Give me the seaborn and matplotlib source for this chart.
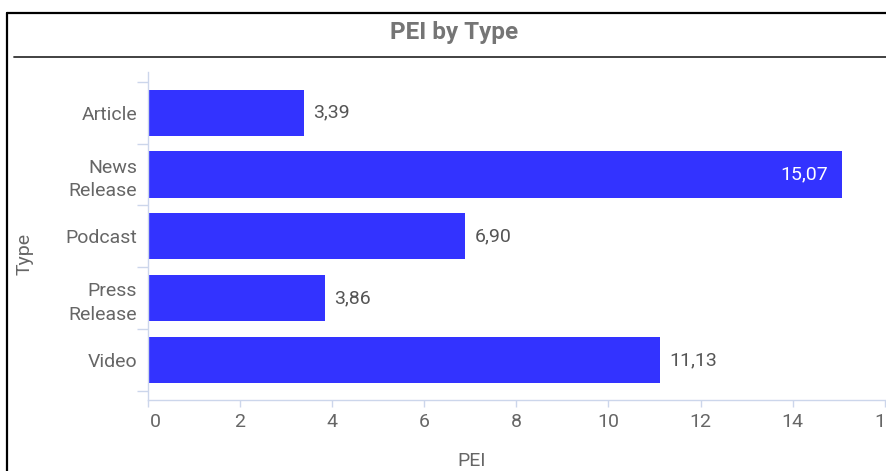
import matplotlib
matplotlib.use("Agg")
import matplotlib.pyplot as plt
import matplotlib.transforms as mtrans
import seaborn as sns
import pandas as pd
from matplotlib.lines import Line2D

# Data
types = ["Article", "News\nRelease", "Podcast", "Press\nRelease", "Video"]
pei = [3.39, 15.07, 6.90, 3.86, 11.13]
x_ticks = [0, 2, 4, 6, 8, 10, 12, 14, 16]

df = pd.DataFrame({"Type": types, "PEI": pei})

sns.set_theme(style="white")
plt.rcParams["font.family"] = ["Roboto", "DejaVu Sans"]

BAR = "#3333ff"
TEXT = "#666666"
GRID = "#ccd6eb"
FS = 14

fig = plt.figure(figsize=(8.86, 4.71), dpi=100)
ax = fig.add_axes([0.1665, 0.1507, 0.8322, 0.6965])

sns.barplot(data=df, x="PEI", y="Type", orient="h", color=BAR,
            saturation=1, width=0.75, ax=ax, edgecolor="none")

ax.set_xlim(0, 16)
ax.set_ylim(4.65, -0.66)
ax.set_xticks(x_ticks)
ax.set_xticklabels([str(t) for t in x_ticks], color=TEXT, fontsize=FS)
ax.tick_params(axis="x", length=5, width=1, color=GRID, pad=4, direction="out", bottom=True)
# keep the first x label inside the plot edge
first = ax.get_xticklabels()[0]
first.set_horizontalalignment("left")
first.set_transform(first.get_transform() + mtrans.ScaledTranslation(2 / 72, 0, fig.dpi_scale_trans))

ax.tick_params(axis="y", length=0, pad=7.5, labelsize=FS, labelcolor=TEXT)
for lbl in ax.get_yticklabels():
    lbl.set_horizontalalignment("right")
    lbl.set_multialignment("right")
    lbl.set_linespacing(1.4)

# category boundary ticks on the left axis
ax.set_yticks([i - 0.5 for i in range(len(types) + 1)], minor=True)
ax.tick_params(axis="y", which="minor", length=8, width=1, color=GRID, left=True)

for side in ["top", "right"]:
    ax.spines[side].set_visible(False)
for side in ["left", "bottom"]:
    ax.spines[side].set_color(GRID)
    ax.spines[side].set_linewidth(1)

ax.set_xlabel("")
ax.set_ylabel("")
fig.text(472 / 886, 1 - 461 / 471, "PEI", ha="center", va="center",
         color=TEXT, fontsize=FS)
fig.text(25 / 886, 1 - 254 / 471, "Type", ha="center", va="center",
         rotation=90, color=TEXT, fontsize=FS)

# value labels: inside the longest bar, outside the others
vmax = max(pei)
for i, v in enumerate(pei):
    txt = f"{v:.2f}".replace(".", ",")
    if v == vmax:
        ax.annotate(txt, (v, i), xytext=(-10, 0), textcoords="offset points",
                    ha="right", va="center", color="white", fontsize=FS)
    else:
        ax.annotate(txt, (v, i), xytext=(6.5, 0), textcoords="offset points",
                    ha="left", va="center", color="#555555", fontsize=FS)

# panel frame, title and rule under it
fig.add_artist(Line2D([6.5 / 886, 6.5 / 886], [0, 1 - 12.5 / 471],
                      transform=fig.transFigure, color="black", lw=1.6))
fig.add_artist(Line2D([6.5 / 886, 1], [1 - 12.5 / 471, 1 - 12.5 / 471],
                      transform=fig.transFigure, color="black", lw=1.6))
fig.add_artist(Line2D([14 / 886, 1], [1 - 57 / 471, 1 - 57 / 471],
                      transform=fig.transFigure, color="#333333", lw=1.3))
fig.text(454 / 886, 1 - 33 / 471, "PEI by Type", ha="center", va="center",
         fontsize=17.5, fontweight="bold", color="#757575")

fig.savefig("out.png", dpi=100)
